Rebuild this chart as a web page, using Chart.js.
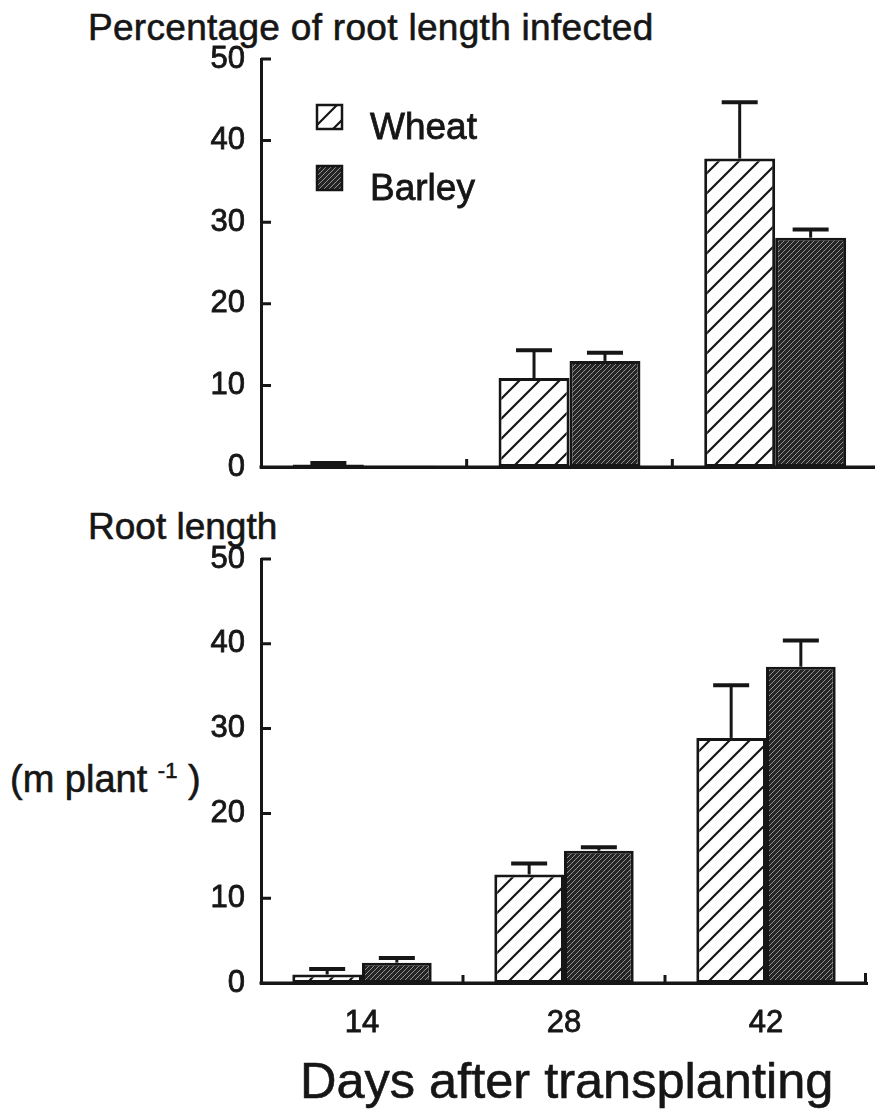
<!DOCTYPE html>
<html>
<head>
<meta charset="utf-8">
<script src="https://cdn.jsdelivr.net/npm/chart.js@4.4.1/dist/chart.umd.min.js"></script>
<style>
  html, body { margin: 0; padding: 0; background: #fff; }
  body { position: relative; width: 875px; height: 1110px; overflow: hidden;
         font-family: "Liberation Sans", Arial, sans-serif; color: #161616; }
  canvas { position: absolute; left: 0; }
  .txt { position: absolute; white-space: nowrap; line-height: 1; -webkit-text-stroke: 0.6px #161616; }
  sup { font-size: 22px; vertical-align: 0; position: relative; top: -14px; }
</style>
</head>
<body>
<div class="txt" style="left:88px; top:9px; font-size:37px; letter-spacing:0.3px;">Percentage of root length infected</div>
<div class="txt" style="left:88px; top:508px; font-size:37px;">Root length</div>
<div class="txt" style="left:10px; top:760px; font-size:38px;">(m plant <sup>-1</sup> )</div>
<div class="txt" style="left:300px; top:1056px; font-size:50.5px;">Days after transplanting</div>

<canvas id="infected" width="882" height="530" style="top:0"></canvas>
<canvas id="length" width="875" height="620" style="top:490px"></canvas>

<script>
// Values (upper error bar only, given as SE above the mean)
const days = ['14', '28', '42'];
const yTicks = [0, 10, 20, 30, 40, 50];

const infWheat    = [0.3, 10.9, 37.8];
const infWheatSE  = [0.2, 3.4, 6.9];
const infBarley   = [0.15, 13.0, 28.1];
const infBarleySE = [0, 1.0, 1.0];

const lenWheat    = [1.0, 12.8, 28.9];
const lenWheatSE  = [0.65, 1.3, 6.2];
const lenBarley   = [2.4, 15.6, 37.3];
const lenBarleySE = [0.55, 0.4, 3.1];

const INK = '#161616';
const FONT = '"Liberation Sans", Arial, sans-serif';
Chart.defaults.font.family = FONT;
Chart.defaults.color = INK;

// Fill patterns: open diagonal hatch for wheat, dense dark hatch for barley
function wheatPattern(ctx) {
  const c = document.createElement('canvas');
  c.width = c.height = 20;
  const g = c.getContext('2d');
  g.fillStyle = '#fff'; g.fillRect(0, 0, 20, 20);
  g.strokeStyle = INK; g.lineWidth = 2.2;
  g.beginPath();
  g.moveTo(-2, 22); g.lineTo(22, -2);
  g.moveTo(-2, 2);  g.lineTo(2, -2);
  g.moveTo(18, 22); g.lineTo(22, 18);
  g.stroke();
  return ctx.createPattern(c, 'repeat');
}
function barleyPattern(ctx) {
  const c = document.createElement('canvas');
  c.width = c.height = 5;
  const g = c.getContext('2d');
  g.fillStyle = '#252525'; g.fillRect(0, 0, 5, 5);
  g.strokeStyle = '#909090'; g.lineWidth = 1;
  g.beginPath();
  g.moveTo(-1, 6); g.lineTo(6, -1);
  g.stroke();
  return ctx.createPattern(c, 'repeat');
}

// Upward-only error bars with a cap
const errorBars = {
  id: 'errorBars',
  afterDatasetsDraw(chart) {
    const ctx = chart.ctx, y = chart.scales.y;
    ctx.save();
    ctx.strokeStyle = INK;
    chart.data.datasets.forEach((ds, i) => {
      chart.getDatasetMeta(i).data.forEach((bar, j) => {
        const se = ds.se[j];
        if (!se) return;
        const top = y.getPixelForValue(ds.data[j] + se);
        ctx.lineWidth = 3;
        ctx.beginPath(); ctx.moveTo(bar.x, bar.y); ctx.lineTo(bar.x, top); ctx.stroke();
        ctx.lineWidth = 4;
        ctx.beginPath(); ctx.moveTo(bar.x - 18, top); ctx.lineTo(bar.x + 18, top); ctx.stroke();
      });
    });
    ctx.restore();
  }
};

// Axis baseline plus tick marks pointing into the plot
const innerTicks = {
  id: 'innerTicks',
  afterDraw(chart, args, opts) {
    const { ctx, chartArea: a, scales: { x, y } } = chart;
    ctx.save();
    ctx.strokeStyle = INK; ctx.lineWidth = 3;
    ctx.beginPath();
    ctx.moveTo(a.left - 1.5, a.bottom); ctx.lineTo(a.right, a.bottom);
    y.ticks.forEach(t => {
      const py = y.getPixelForValue(t.value);
      ctx.moveTo(a.left, py); ctx.lineTo(a.left + 10, py);
    });
    for (let i = 0; i < x.ticks.length - 1; i++) {
      const px = (x.getPixelForTick(i) + x.getPixelForTick(i + 1)) / 2;
      ctx.moveTo(px, a.bottom); ctx.lineTo(px, a.bottom - 8);
    }
    if (opts.endTick) { ctx.moveTo(a.right - 1.5, a.bottom); ctx.lineTo(a.right - 1.5, a.bottom - 10); }
    ctx.stroke();
    ctx.restore();
  }
};

// Legend drawn inside the plot area, stacked
const swatchLegend = {
  id: 'swatchLegend',
  afterDraw(chart, args, opts) {
    if (!opts.show) return;
    const { ctx, chartArea: a } = chart;
    ctx.save();
    chart.data.datasets.forEach((ds, i) => {
      const sx = a.left + 56, sy = a.top + 46 + i * 61;
      ctx.save();
      ctx.translate(sx, sy);
      ctx.fillStyle = ds.backgroundColor;
      ctx.fillRect(0, 0, 25, 24);
      ctx.restore();
      ctx.strokeStyle = INK; ctx.lineWidth = 2.5;
      ctx.strokeRect(sx, sy, 25, 24);
      ctx.fillStyle = INK;
      ctx.font = '37px ' + FONT;
      ctx.textBaseline = 'alphabetic';
      ctx.fillText(ds.label, a.left + 109, sy + 34);
      ctx.lineWidth = 0.8;
      ctx.strokeText(ds.label, a.left + 109, sy + 34);
    });
    ctx.restore();
  }
};

function makePanel(id, wheat, wheatSE, barley, barleySE, cfg) {
  const canvas = document.getElementById(id);
  const ctx = canvas.getContext('2d');
  const H = canvas.height;
  const tickFont = { size: 31 };
  return new Chart(ctx, {
    type: 'bar',
    data: {
      labels: days,
      datasets: [
        { label: 'Wheat', data: wheat, se: wheatSE, backgroundColor: wheatPattern(ctx) },
        { label: 'Barley', data: barley, se: barleySE, backgroundColor: barleyPattern(ctx) }
      ].map(d => Object.assign(d, {
        borderColor: INK, borderWidth: 3, borderSkipped: false,
        categoryPercentage: 0.69, barPercentage: 1.0
      }))
    },
    options: {
      responsive: false,
      animation: false,
      devicePixelRatio: 1,
      events: [],
      layout: { padding: { top: cfg.top, right: cfg.right, left: 0, bottom: 0 } },
      plugins: {
        legend: { display: false },
        tooltip: { enabled: false },
        innerTicks: { endTick: cfg.endTick },
        swatchLegend: { show: cfg.legend }
      },
      scales: {
        x: {
          grid: { display: false, drawTicks: false },
          border: { display: true, color: INK, width: 3 },
          ticks: {
            color: cfg.xLabels ? INK : 'rgba(0,0,0,0)', font: tickFont, padding: 22,
            textStrokeColor: cfg.xLabels ? INK : 'rgba(0,0,0,0)', textStrokeWidth: 0.8
          },
          afterFit: s => { s.height = H - cfg.bottom; }
        },
        y: {
          min: 0, max: 50,
          afterBuildTicks: s => { s.ticks = yTicks.map(v => ({ value: v })); },
          grid: { display: false, drawTicks: false },
          border: { display: true, color: INK, width: 3 },
          ticks: { color: INK, font: tickFont, padding: 16, textStrokeColor: INK, textStrokeWidth: 0.8 },
          afterFit: s => { s.width = 261; }
        }
      }
    },
    plugins: [errorBars, innerTicks, swatchLegend]
  });
}

// top panel: y=50 at page 59, y=0 at page 467; axis runs off the right edge
makePanel('infected', infWheat, infWheatSE, infBarley, infBarleySE,
  { top: 59, bottom: 467, right: 4, endTick: false, legend: true, xLabels: false });
// bottom panel (canvas starts at 490): y=50 at page 559, y=0 at page 983
makePanel('length', lenWheat, lenWheatSE, lenBarley, lenBarleySE,
  { top: 69, bottom: 493, right: 8, endTick: true, legend: false, xLabels: true });
</script>
</body>
</html>
